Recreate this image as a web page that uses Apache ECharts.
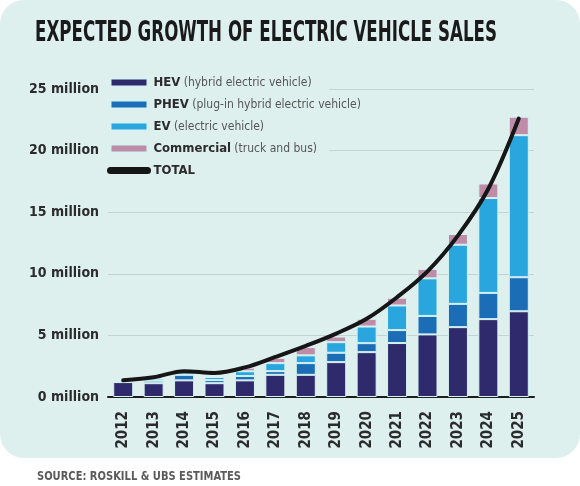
<!DOCTYPE html>
<html><head><meta charset="utf-8">
<script src="https://cdn.jsdelivr.net/npm/echarts@6/dist/echarts.min.js"></script>
<style>html,body{margin:0;padding:0;background:#fff}#c{width:580px;height:486px}</style>
</head><body><div id="c"></div>
<script>
const years = ['2012','2013','2014','2015','2016','2017','2018','2019','2020','2021','2022','2023','2024','2025'];
const hev =        [1.21,1.12,1.35,1.12,1.35,1.80,1.80,2.83,3.64,4.38,5.08,5.67,6.32,6.96];
const phev =       [0.05,0.20,0.45,0.25,0.35,0.30,0.95,0.76,0.73,1.05,1.50,1.89,2.13,2.76];
const ev =         [0.04,0.17,0.20,0.25,0.39,0.65,0.63,0.86,1.35,2.00,3.05,4.80,7.70,11.53];
const commercial = [0.00,0.03,0.05,0.06,0.29,0.43,0.67,0.46,0.63,0.63,0.77,0.87,1.18,1.50];
const total =      [1.35,1.60,2.10,1.95,2.40,3.25,4.15,5.15,6.35,8.10,10.20,13.10,16.90,22.60];
const yTicks = [0,5,10,15,20,25];
const seriesNames = ['HEV','PHEV','EV','Commercial','TOTAL'];
const seriesNotes = {HEV:'(hybrid electric vehicle)',PHEV:'(plug-in hybrid electric vehicle)',EV:'(electric vehicle)',Commercial:'(truck and bus)',TOTAL:''};
const titleText = 'EXPECTED GROWTH OF ELECTRIC VEHICLE SALES';
const sourceText = 'SOURCE: ROSKILL & UBS ESTIMATES';

const F = "'Liberation Sans Narrow','DejaVu Sans Condensed','Roboto Condensed',sans-serif";
const colors = {HEV:'#2f2a6b',PHEV:'#1b6db5',EV:'#29a6de',Commercial:'#be8ca6',TOTAL:'#161616'};
const bg = '#ddf0ed';

// horizontal scale so condensed texts fit their measured widths
const cv = document.createElement('canvas').getContext('2d');
cv.font = "bold 28px " + F;
const titleScale = 462 / cv.measureText(titleText).width;
cv.font = "bold 12px " + F;
const sourceScale = 204 / cv.measureText(sourceText).width;

const chart = echarts.init(document.getElementById('c'), null, {renderer:'canvas'});
const barSeries = [['HEV',hev],['PHEV',phev],['EV',ev],['Commercial',commercial]].map(([n,d]) => ({
  name:n, type:'bar', stack:'s', data:d, barWidth:20,
  itemStyle:{color:colors[n], borderColor:'#d6f1f3', borderWidth:1},
  z:2
}));
chart.setOption({
  backgroundColor:'#ffffff',
  animation:false,
  graphic:[
    {type:'rect', shape:{x:0,y:0,width:580,height:458,r:24}, style:{fill:bg}, z:-10, silent:true},
    {type:'rect', shape:{x:100,y:72,width:229,height:110}, style:{fill:bg}, z:1, silent:true},
    {type:'text', x:35, y:34, scaleX:titleScale, scaleY:1, z:5,
      style:{text:titleText, font:"bold 28px " + F, fill:'#1a1a1a', verticalAlign:'middle', align:'left'}},
    {type:'text', x:37, y:477, scaleX:sourceScale, z:5,
      style:{text:sourceText, font:"bold 12px " + F, fill:'#5a5a5a', verticalAlign:'middle', align:'left'}}
  ],
  legend:{
    orient:'vertical', left:102, top:71, itemWidth:37, itemHeight:8, itemGap:9, z:4,
    data:seriesNames.map(n => n==='TOTAL'
      ? {name:n, lineStyle:{width:7, cap:'round', color:colors.TOTAL}, itemStyle:{color:colors.TOTAL}}
      : {name:n, icon:'rect', itemStyle:{color:colors[n]}}),
    formatter: n => seriesNotes[n] ? '{b|' + n + '} {n|' + seriesNotes[n] + '}' : '{b|' + n + '}',
    textStyle:{
      padding:[0,0,0,1],
      rich:{
        b:{fontFamily:F, fontWeight:'bold', fontSize:13, color:'#2b2b2b'},
        n:{fontFamily:F, fontSize:12, color:'#555555'}
      }
    },
    selectedMode:false
  },
  grid:{left:108, right:46, top:89, bottom:89, containLabel:false},
  xAxis:{
    type:'category', data:years,
    axisLine:{lineStyle:{color:'#1e1e1e', width:2}},
    axisTick:{show:false},
    axisLabel:{rotate:90, margin:14, fontFamily:F, fontWeight:'bold', fontSize:15, color:'#2b2b2b'}
  },
  yAxis:{
    type:'value', min:yTicks[0], max:yTicks[yTicks.length-1], interval:5,
    axisLine:{show:false}, axisTick:{show:false},
    splitLine:{lineStyle:{color:'#c3d3d1', width:1}},
    axisLabel:{formatter: v => v + ' million', margin:9, fontFamily:F, fontWeight:'bold', fontSize:14, color:'#2b2b2b'}
  },
  series:[...barSeries, {
    name:'TOTAL', type:'line', data:total, smooth:0.35, symbol:'none',
    lineStyle:{color:colors.TOTAL, width:4, cap:'round'}, itemStyle:{color:colors.TOTAL}, z:5
  }]
});
</script></body></html>
